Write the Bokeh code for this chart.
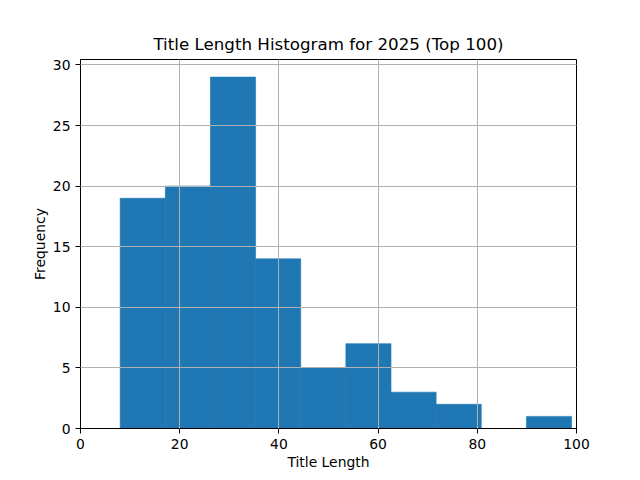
from bokeh.plotting import figure
from bokeh.models import Range1d, FixedTicker
from bokeh.embed import file_html
from bokeh.resources import INLINE

# histogram of title lengths (10 bins)
bin_edges = [8.0, 17.1, 26.2, 35.3, 44.4, 53.5, 62.6, 71.7, 80.8, 89.9, 99.0]
counts = [19, 20, 29, 14, 5, 7, 3, 2, 0, 1]
x_ticks = [0, 20, 40, 60, 80, 100]
y_ticks = [0, 5, 10, 15, 20, 25, 30]

p = figure(width=640, height=480, output_backend="svg", toolbar_location=None,
           title="Title Length Histogram for 2025 (Top 100)",
           x_range=Range1d(0, 100), y_range=Range1d(0, 30.45))
p.min_border_left = 80
p.min_border_right = 64
p.min_border_top = 59
p.min_border_bottom = 52

p.quad(left=bin_edges[:-1], right=bin_edges[1:], top=counts, bottom=0,
       fill_color="#1f77b4", line_color="#1f77b4", line_width=0.6)

p.title.align = "center"
p.title.text_font = "DejaVu Sans"
p.title.text_font_size = "16.7px"
p.title.text_font_style = "normal"
p.title.text_color = "black"
p.title.offset = 0
p.title.standoff = 11

p.xaxis.axis_label = "Title Length"
p.yaxis.axis_label = "Frequency"
p.xaxis.ticker = FixedTicker(ticks=x_ticks)
p.yaxis.ticker = FixedTicker(ticks=y_ticks)
for ax in [p.xaxis, p.yaxis]:
    ax.axis_label_text_font = "DejaVu Sans"
    ax.axis_label_text_font_size = "13.9px"
    ax.axis_label_text_font_style = "normal"
    ax.axis_label_text_color = "black"
    ax.major_label_text_font = "DejaVu Sans"
    ax.major_label_text_font_size = "13.9px"
    ax.major_label_text_color = "black"
    ax.axis_line_color = "black"
    ax.major_tick_line_color = "black"
    ax.major_tick_out = 5
    ax.major_tick_in = 0
    ax.minor_tick_line_color = None
    ax.axis_label_standoff = 2
p.yaxis.major_label_orientation = "horizontal"

p.grid.grid_line_color = "#b0b0b0"
p.grid.grid_line_width = 1
p.grid.level = "overlay"
p.outline_line_color = "black"
p.outline_line_width = 1
p.background_fill_color = "white"
p.border_fill_color = "white"

open("out.html", "w").write(file_html(p, INLINE))
